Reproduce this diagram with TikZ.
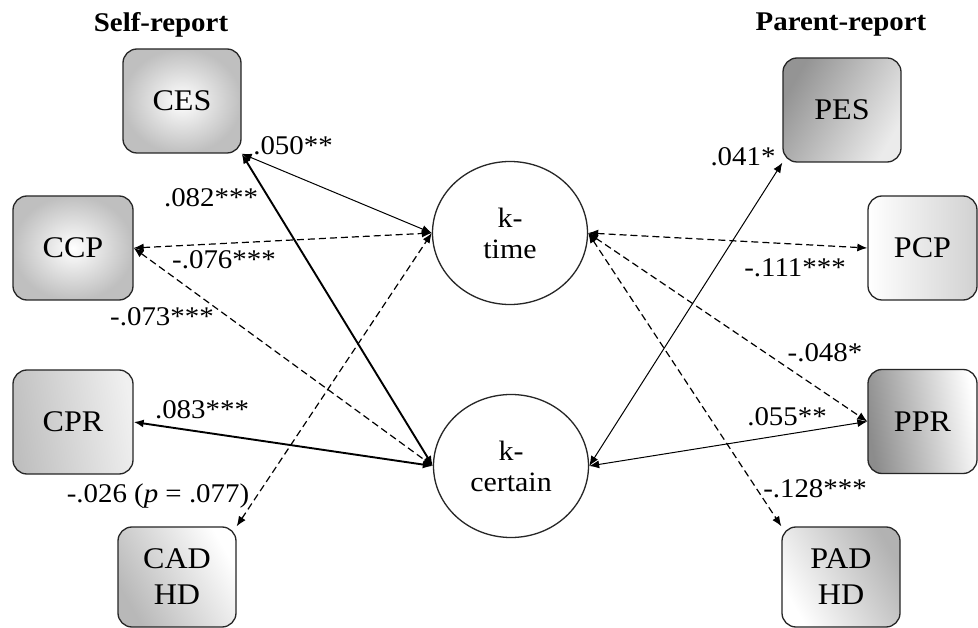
\documentclass[tikz,border=0pt]{standalone}
\usepackage{fontspec}
\setmainfont[FakeStretch=1.07]{Liberation Serif}
\usetikzlibrary{arrows.meta,shapes.geometric}
\begin{document}
\begin{tikzpicture}[x=1pt,y=-1pt,
  box/.style={draw=black!85, line width=1.3pt, rounded corners=14pt, minimum width=118pt, minimum height=104pt, align=center, font=\fontsize{30}{36}\selectfont, inner sep=0pt},
  lat/.style={draw=black!85, line width=1.3pt, ellipse, minimum width=155pt, minimum height=143pt, align=center, font=\fontsize{28}{31}\selectfont, inner sep=0pt, fill=white},
  lab/.style={font=\fontsize{27}{30}\selectfont, inner sep=0pt},
  ttl/.style={font=\bfseries\fontsize{27}{30}\selectfont, inner sep=0pt},
  conn/.style={<->, >={Latex[length=10pt,width=8pt]}, line width=1pt},
  thk/.style={conn, line width=1.9pt},
  dsh/.style={conn, dash pattern=on 7pt off 4pt, line width=1.2pt}
]
\useasboundingbox (0,0) rectangle (978,628);
\fill[white] (0,0) rectangle (978,628);

% titles
\node[ttl] (t1) at (161,25) {Self-report};
\node[ttl] (t2) at (841,25) {Parent-report};

% self-report boxes
\node[box, inner color=white, outer color=black!25] (ces) at (182,101) {CES};
\node[box, minimum width=120pt, inner color=white, outer color=black!25] (ccp) at (73,248) {CCP};
\node[box, minimum width=120pt, left color=black!25, right color=black!6, shading angle=100] (cpr) at (73,422) {CPR};
\node[box, minimum height=100pt, left color=black!28, right color=white, shading angle=120] (cad) at (177,577) {CAD\\HD};

% parent-report boxes
\node[box, left color=black!42, right color=black!8, shading angle=60] (pes) at (842,110) {PES};
\node[box, minimum width=109pt, left color=white, right color=black!18] (pcp) at (922.5,248) {PCP};
\node[box, minimum width=109pt, left color=black!45, right color=white, shading angle=100] (ppr) at (922.5,421.5) {PPR};
\node[box, minimum height=100pt, left color=white, right color=black!30, shading angle=120] (pad) at (841,577) {PAD\\HD};

% latent circles
\node[lat] (kt) at (510,233) {k-\\time};
\node[lat] (kc) at (511,466) {k-\\certain};

% connectors, left
\draw[conn] (ces.south east) -- (kt.west);
\draw[thk] (ces.south east) -- (kc.west);
\draw[dsh] (ccp.east) -- (kt.west);
\draw[dsh] (ccp.east) -- (kc.west);
\draw[thk] (cpr.east) -- (kc.west);
\draw[dsh] (cad.north east) -- (kt.west);

% connectors, right
\draw[conn] (pes.south west) -- (kc.east);
\draw[dsh] (kt.east) -- (pcp.west);
\draw[dsh] (kt.east) -- (ppr.west);
\draw[conn] (kc.east) -- (ppr.west);
\draw[dsh] (kt.east) -- (pad.north west);

% labels
\node[lab] (l1) at (293,146) {.050**};
\node[lab] (l2) at (211,198) {.082***};
\node[lab] (l3) at (224,260) {-.076***};
\node[lab] (l4) at (162,317) {-.073***};
\node[lab] (l5) at (202,410) {.083***};
\node[lab] (l6) at (158,496) {-.026 (\textit{p} = .077)};
\node[lab] (l7) at (743,157) {.041*};
\node[lab] (l8) at (795,268) {-.111***};
\node[lab] (l9) at (825,353) {-.048*};
\node[lab] (l10) at (787,417) {.055**};
\node[lab] (l11) at (815,489) {-.128***};
\end{tikzpicture}
\end{document}
